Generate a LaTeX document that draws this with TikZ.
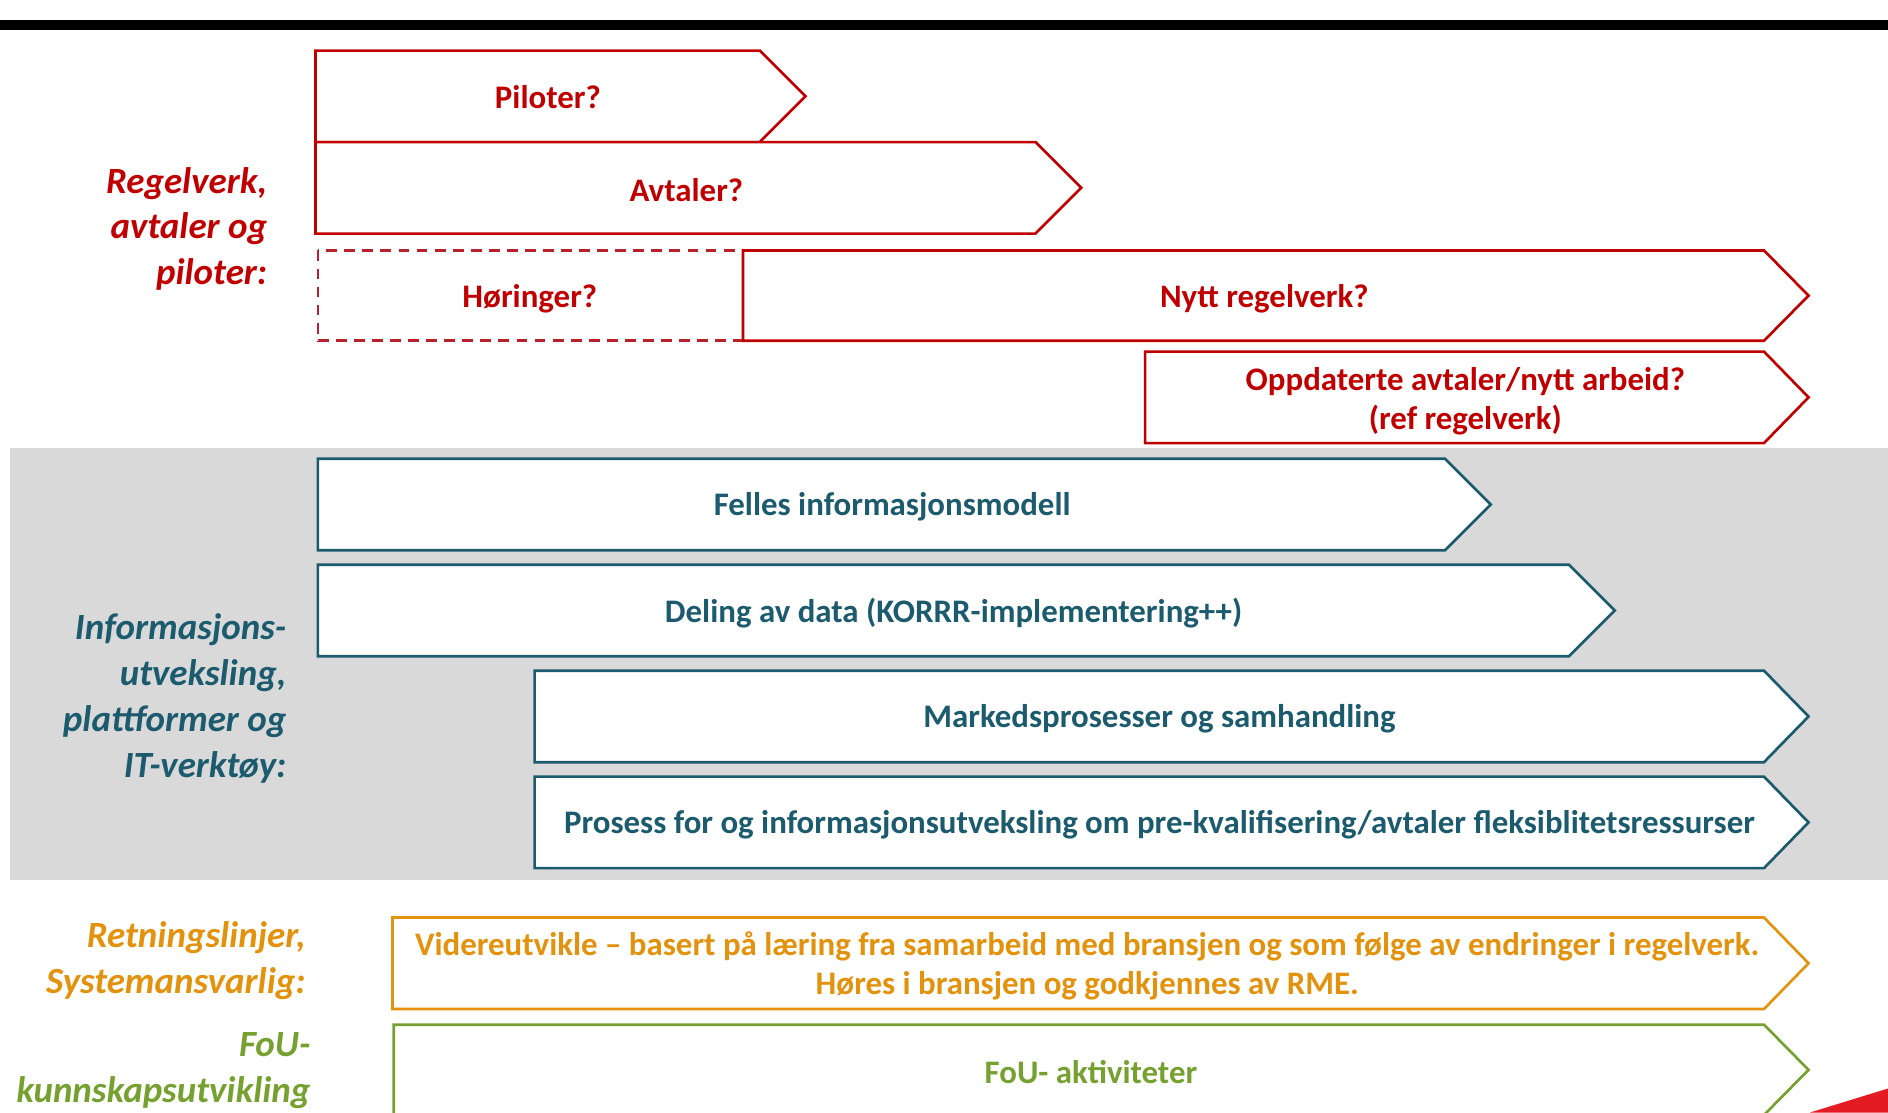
\documentclass[tikz,border=0pt]{standalone}
\usepackage{fontspec}
\setmainfont{Carlito}
\begin{document}
\definecolor{rvred}{HTML}{C00000}
\definecolor{dashred}{HTML}{B8202B}
\definecolor{itteal}{HTML}{1B5B6D}
\definecolor{rlorange}{HTML}{E3920D}
\definecolor{fougreen}{HTML}{76A02F}
\definecolor{bandgray}{HTML}{D9D9D9}
\definecolor{cornerred}{HTML}{E31B23}
% chevron bar: style, left x, body end x, tip x, top y, bottom y
\newcommand{\tlchevron}[6]{%
  \draw[#1] (#2,#5) -- (#3,#5) -- (#4,{(#5+#6)/2}) -- (#3,#6) -- (#2,#6) -- cycle;}
\begin{tikzpicture}[x=1pt,y=-1pt,line join=miter,
  bar/.style={line width=2.2pt,fill=white},
  redbar/.style={bar,draw=rvred},
  tealbar/.style={bar,draw=itteal},
  orangebar/.style={bar,draw=rlorange},
  greenbar/.style={bar,draw=fougreen},
  bartext/.style={inner sep=0pt,align=center,font=\fontsize{27.3}{32.5}\selectfont\bfseries},
  sidelabel/.style={inner sep=0pt,anchor=east,align=right,
    font=\fontsize{30.7}{38}\selectfont\bfseries\itshape}]
\useasboundingbox (0,0) rectangle (1568,924);
\clip (0,0) rectangle (1568,924);

% top rule
\fill[black] (0,16.6) rectangle (1568,25);

% band behind the information exchange rows
\fill[bandgray] (8,372) rectangle (1568,731);

% regulation, agreements and pilots
\tlchevron{redbar}{262}{631}{669}{42}{118}
\node[bartext,text=rvred] (piloter) at (455,81) {Piloter?};
\tlchevron{redbar}{262}{860}{898}{118}{194}
\node[bartext,text=rvred] (avtaler) at (570,158) {Avtaler?};
\draw[line width=2.2pt,draw=dashred,dash pattern=on 9pt off 6pt,fill=white]
  (264,208) rectangle (617,283);
\node[bartext,text=rvred] (horinger) at (440,248) {Høringer?};
\tlchevron{redbar}{617}{1465}{1502}{208}{283}
\node[bartext,text=rvred] (nytt) at (1050,248) {Nytt regelverk?};
\tlchevron{redbar}{951}{1465}{1502}{292}{368}
\node[bartext,text=rvred] (oppdaterte) at (1217,333) {Oppdaterte avtaler/nytt arbeid?\\(ref regelverk)};

% information exchange, platforms and IT tools
\tlchevron{tealbar}{264}{1200}{1238}{381}{457}
\node[bartext,text=itteal] (felles) at (741,421) {Felles informasjonsmodell};
\tlchevron{tealbar}{264}{1303}{1341}{469}{545}
\node[bartext,text=itteal] (deling) at (792,509) {Deling av data (KORRR-implementering++)};
\tlchevron{tealbar}{444}{1465}{1502}{557}{633}
\node[bartext,text=itteal] (marked) at (963,597) {Markedsprosesser og samhandling};
\tlchevron{tealbar}{444}{1465}{1502}{645}{721}
\node[bartext,text=itteal] (prosess) at (963,685) {Prosess for og informasjonsutveksling om pre-kvalifisering/avtaler fleksiblitetsressurser};

% guidelines from the system operator
\tlchevron{orangebar}{326}{1465}{1502}{762}{838}
\node[bartext,text=rlorange] (videre) at (903,802) {Videreutvikle – basert på læring fra samarbeid med bransjen og som følge av endringer i regelverk.\\Høres i bransjen og godkjennes av RME.};

% research and development
\tlchevron{greenbar}{327}{1465}{1502}{851}{926}
\node[bartext,text=fougreen] (fou) at (906,890) {FoU- aktiviteter};

% row labels
\node[sidelabel,text=rvred] (lblregel) at (222,190) {Regelverk,\\avtaler og\\piloter:};
\node[sidelabel,text=itteal] (lblinfo) at (238,580) {Informasjons-\\utveksling,\\plattformer og\\IT-verktøy:};
\node[sidelabel,text=rlorange] (lblretning) at (254,798) {Retningslinjer,\\Systemansvarlig:};
\node[sidelabel,text=fougreen] (lblfou) at (258,889) {FoU-\\kunnskapsutvikling};

% corner accent
\fill[cornerred] (1503,924) -- (1568,904) -- (1568,924) -- cycle;
\end{tikzpicture}
\end{document}
